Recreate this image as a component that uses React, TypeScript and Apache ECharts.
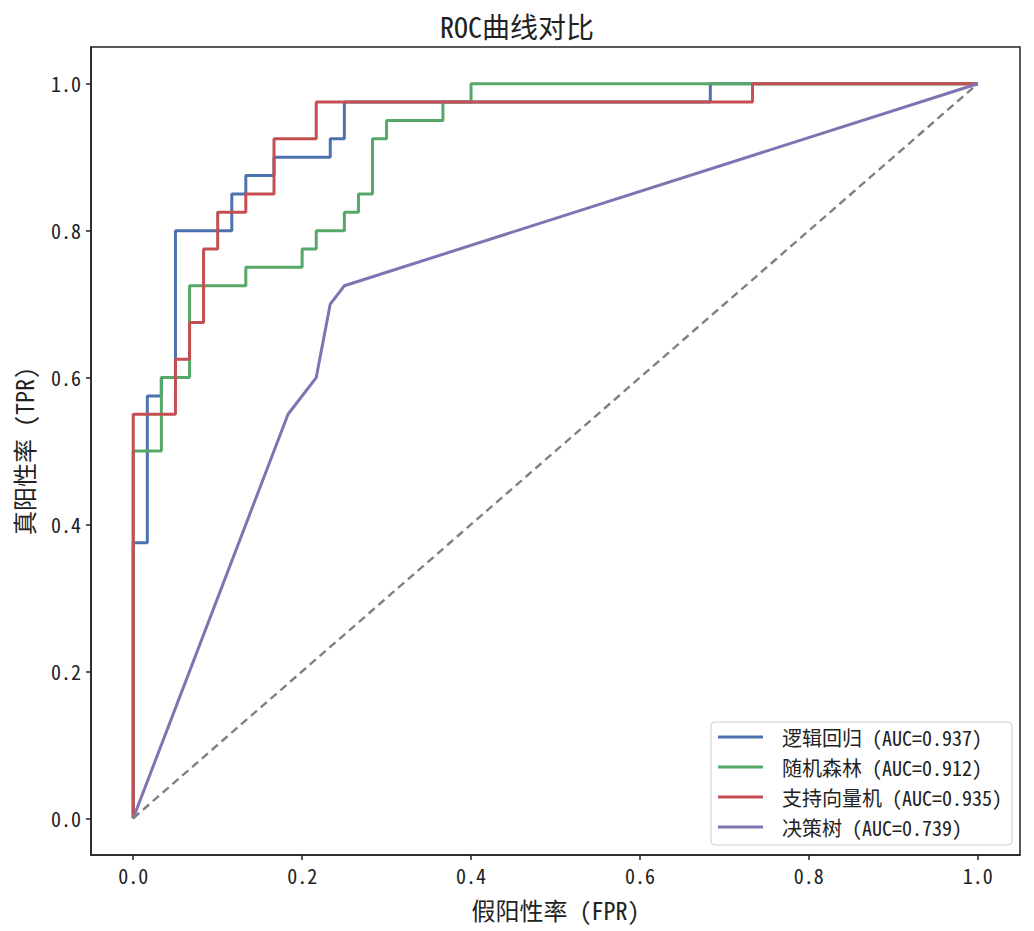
import React, { useRef, useEffect } from 'react'
import * as echarts from 'echarts'

// ROC 曲线数据（角点）
const lrFpr = [0, 0, 0.0167, 0.0167, 0.0333, 0.0333, 0.05, 0.05, 0.1167, 0.1167, 0.1333, 0.1333, 0.1667, 0.1667, 0.2333, 0.2333, 0.25, 0.25, 0.6833, 0.6833, 1]
const lrTpr = [0, 0.375, 0.375, 0.575, 0.575, 0.6, 0.6, 0.8, 0.8, 0.85, 0.85, 0.875, 0.875, 0.9, 0.9, 0.925, 0.925, 0.975, 0.975, 1, 1]

const rfFpr = [0, 0, 0.0333, 0.0333, 0.0667, 0.0667, 0.1333, 0.1333, 0.2, 0.2, 0.2167, 0.2167, 0.25, 0.25, 0.2667, 0.2667, 0.2833, 0.2833, 0.3, 0.3, 0.3667, 0.3667, 0.4, 0.4, 1]
const rfTpr = [0, 0.5, 0.5, 0.6, 0.6, 0.725, 0.725, 0.75, 0.75, 0.775, 0.775, 0.8, 0.8, 0.825, 0.825, 0.85, 0.85, 0.925, 0.925, 0.95, 0.95, 0.975, 0.975, 1, 1]

const svmFpr = [0, 0, 0.05, 0.05, 0.0667, 0.0667, 0.0833, 0.0833, 0.1, 0.1, 0.1333, 0.1333, 0.1667, 0.1667, 0.2167, 0.2167, 0.7333, 0.7333, 1]
const svmTpr = [0, 0.55, 0.55, 0.625, 0.625, 0.675, 0.675, 0.775, 0.775, 0.825, 0.825, 0.85, 0.85, 0.925, 0.925, 0.975, 0.975, 1, 1]

const dtFpr = [0, 0.1833, 0.2167, 0.2333, 0.25, 1]
const dtTpr = [0, 0.55, 0.6, 0.7, 0.725, 1]

const diagX = [0, 1]
const diagY = [0, 1]

const modelNames = ['逻辑回归 (AUC=0.937)', '随机森林 (AUC=0.912)', '支持向量机 (AUC=0.935)', '决策树 (AUC=0.739)']
const modelColors = ['#4c72b0', '#55a868', '#c44e52', '#8172b2']

const tickValues = [0, 0.2, 0.4, 0.6, 0.8, 1.0]

const FONT = "'Noto Sans Mono CJK SC', 'Noto Sans CJK SC', sans-serif"
const INK = '#222'

const zip = (xs: number[], ys: number[]) => xs.map((x, i) => [x, ys[i]])

const App: React.FC = () => {
  const chartRef = useRef<HTMLDivElement>(null)

  useEffect(() => {
    document.body.style.margin = '0'
    if (!chartRef.current) return
    const chart = echarts.init(chartRef.current, null, { renderer: 'svg' })

    const curves = [zip(lrFpr, lrTpr), zip(rfFpr, rfTpr), zip(svmFpr, svmTpr), zip(dtFpr, dtTpr)]

    const series: any[] = curves.map((d, i) => ({
      name: modelNames[i],
      type: 'line',
      data: d,
      color: modelColors[i],
      symbol: 'none',
      lineStyle: { color: modelColors[i], width: 3 },
      emphasis: { disabled: true }
    }))

    // 随机猜测对角线
    series.push({
      name: 'diag',
      type: 'line',
      data: zip(diagX, diagY),
      symbol: 'none',
      lineStyle: { color: '#808080', width: 2.4, type: [8, 5] },
      emphasis: { disabled: true }
    })

    const axisCommon = {
      type: 'value',
      min: -0.05,
      max: 1.05,
      nameLocation: 'middle',
      nameTextStyle: { color: INK, fontSize: 24, fontFamily: FONT },
      axisLine: { show: true, onZero: false, lineStyle: { color: INK, width: 1.5 } },
      axisTick: {
        show: true,
        inside: false,
        length: 5,
        lineStyle: { color: INK, width: 1.5 },
        customValues: tickValues
      },
      axisLabel: {
        color: INK,
        fontSize: 20,
        fontFamily: FONT,
        margin: 10,
        customValues: tickValues,
        formatter: (v: number) => v.toFixed(1)
      },
      splitLine: { show: false }
    }

    chart.setOption({
      animation: false,
      backgroundColor: '#fff',
      title: {
        text: 'ROC曲线对比',
        left: 'center',
        top: 7,
        textStyle: { color: INK, fontSize: 28, fontWeight: 'normal', fontFamily: FONT }
      },
      legend: {
        data: modelNames,
        orient: 'vertical',
        right: 22,
        bottom: 86,
        icon: 'rect',
        itemWidth: 45,
        itemHeight: 3,
        itemGap: 10,
        padding: [5, 10, 8, 7],
        borderColor: '#ccc',
        borderWidth: 1,
        borderRadius: 4,
        backgroundColor: 'rgba(255,255,255,0.8)',
        textStyle: { color: INK, fontSize: 20, fontFamily: FONT, padding: [0, 0, 0, 14] }
      },
      grid: {
        left: 91,
        right: 14,
        top: 47,
        bottom: 76,
        show: true,
        borderColor: INK,
        borderWidth: 1.5,
        backgroundColor: 'transparent'
      },
      xAxis: { ...axisCommon, name: '假阳性率 (FPR)', nameGap: 42 },
      yAxis: { ...axisCommon, name: '真阳性率 (TPR)', nameGap: 56 },
      series
    })

    return () => {
      chart.dispose()
    }
  }, [])

  return <div ref={chartRef} style={{ width: 1034, height: 931 }} />
}

export default App
